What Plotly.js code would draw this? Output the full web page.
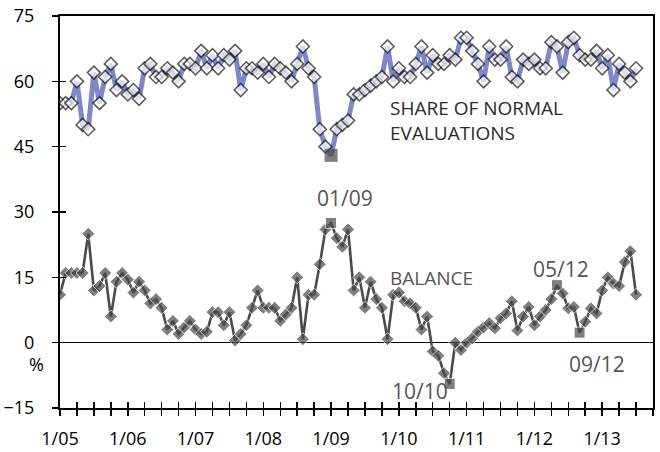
<!DOCTYPE html>
<html>
<head>
<meta charset="utf-8">
<script src="https://cdn.plot.ly/plotly-3.0.1.min.js"></script>
<style>
  html, body { margin: 0; padding: 0; background: #fff; }
  #chart { width: 660px; height: 452px; }
</style>
</head>
<body>
<div id="chart"></div>
<script>
// Monthly data, January 2005 to July 2013
const share = [
  55, 55, 55, 60, 50, 49, 62, 55, 61, 64, 58, 60,
  57, 58, 56, 63, 64, 61, 61, 63, 62, 60, 64, 64,
  63, 67, 63, 66, 63, 66, 65, 67, 58, 63, 63, 62,
  64, 61, 64, 63, 62, 60, 64, 68, 63, 61, 49, 45,
  43, 49, 50, 51, 57, 57, 58, 59, 60, 61, 68, 60,
  63, 61, 61, 64, 68, 62, 66, 64, 64, 66, 65, 70,
  70, 67, 64, 60, 68, 65, 65, 68, 61, 60, 65, 64,
  65, 63, 63, 69, 68, 62, 69, 70, 66, 65, 65, 67,
  63, 66, 58, 64, 62, 60, 63
];
const balance = [
  11, 16, 16, 16, 16, 25, 12, 13, 16, 6, 14, 16,
  14.5, 11.5, 14, 12, 9, 10, 8, 3, 5, 2, 3.5, 5,
  3, 2, 2.5, 7, 7, 4, 7, 0.5, 2, 4, 8, 12,
  8, 8, 8, 5, 6.5, 8, 15, 0.8, 11, 11, 18, 26,
  27.5, 24, 22, 26, 12, 15, 8, 14, 10, 8, 0.8, 11,
  11.5, 9.5, 9, 8, 3, 6, -2, -3, -7, -9.5, 0, -1.7,
  0, 1, 2.5, 3.5, 4.5, 3.3, 5.6, 6.7, 9.5, 2.8, 6, 8.2,
  4, 6, 7.5, 10, 13.2, 11.3, 7.9, 8.2, 2.3, 4.8, 7.9, 6.7,
  12, 15, 13.6, 13, 18.5, 21, 11
];
const yearLabels = ['1/05','1/06','1/07','1/08','1/09','1/10','1/11','1/12','1/13'];
const shareMarked = ['01/09'];
const balanceMarked = ['01/09','10/10','05/12','09/12'];
const shareName = 'SHARE OF NORMAL<br>EVALUATIONS';
const balanceName = 'BALANCE';

// ---------- helpers ----------
const monthIndex = s => { const [m, y] = s.split('/').map(Number); return (y - 5) * 12 + (m - 1); };
const xs = share.map((_, i) => i);
const lastMonth = 105; // axis end (Oct 2013)
const tickVals = [];
for (let v = 0; v <= lastMonth; v += 3) tickVals.push(v);
const tickText = tickVals.map(v => (v % 12 === 0 && yearLabels[v / 12]) ? yearLabels[v / 12] : '');

const FONT = 'Open Sans, Noto Sans, sans-serif';
const BLUE = '#7f87c7';
const DARK = '#4a4a4a';

const shareIdx = shareMarked.map(monthIndex);
const balIdx = balanceMarked.map(monthIndex);

const shareTrace = {
  x: xs, y: share, type: 'scatter', mode: 'lines+markers',
  line: { color: BLUE, width: 5 },
  marker: {
    symbol: xs.map(i => shareIdx.includes(i) ? 'square' : 'diamond'),
    size: xs.map(i => shareIdx.includes(i) ? 13 : 10),
    color: xs.map(i => shareIdx.includes(i) ? DARK : '#ffffff'),
    line: { color: '#1a1a1a', width: xs.map(i => shareIdx.includes(i) ? 0 : 1.6) }
  },
  showlegend: false, hoverinfo: 'skip'
};
const balanceTrace = {
  x: xs, y: balance, type: 'scatter', mode: 'lines+markers',
  line: { color: DARK, width: 2.6 },
  marker: {
    symbol: xs.map(i => balIdx.includes(i) ? 'square' : 'diamond'),
    size: xs.map(i => balIdx.includes(i) ? 11 : 10),
    color: DARK
  },
  showlegend: false, hoverinfo: 'skip'
};
// empty trace that carries the inner tick marks (crossing ticks)
const tickTrace = { x: [null], y: [null], xaxis: 'x2', yaxis: 'y2', type: 'scatter', mode: 'markers', showlegend: false, hoverinfo: 'skip' };

// label offsets (styling only)
const labelShift = {
  '01/09': [14, 25],
  '10/10': [-30, -7],
  '05/12': [4, 16],
  '09/12': [17, -31]
};
const annotations = balanceMarked.map((lab, k) => ({
  x: balIdx[k], y: balance[balIdx[k]], xref: 'x', yref: 'y',
  text: lab, showarrow: false,
  xshift: labelShift[lab][0], yshift: labelShift[lab][1],
  font: { family: FONT, size: 21, color: '#555555' }
}));
annotations.push({
  x: 58, y: 51, xref: 'x', yref: 'y', xanchor: 'left', yanchor: 'middle', align: 'left',
  text: shareName, showarrow: false,
  font: { family: FONT, size: 19, color: '#2b2b2b' }
});
annotations.push({
  x: 58, y: 14.8, xref: 'x', yref: 'y', xanchor: 'left', yanchor: 'middle',
  text: balanceName, showarrow: false,
  font: { family: FONT, size: 19, color: '#555555' }
});
annotations.push({
  x: -0.04, y: -5, xref: 'paper', yref: 'y', xanchor: 'center', yanchor: 'middle',
  text: '%', showarrow: false,
  font: { family: FONT, size: 18, color: '#000' }
});

const layout = {
  width: 660, height: 452,
  margin: { l: 60, r: 7, t: 16, b: 44, pad: 0 },
  paper_bgcolor: '#fff', plot_bgcolor: '#fff',
  font: { family: FONT, size: 18, color: '#000' },
  xaxis: {
    range: [0, lastMonth], tickmode: 'array', tickvals: tickVals, ticktext: tickText,
    ticks: 'outside', ticklen: 6, tickwidth: 1.5, tickcolor: '#000',
    showline: true, linecolor: '#000', linewidth: 2, mirror: true,
    showgrid: false, zeroline: false, fixedrange: true,
    ticklabelstandoff: 7,
    tickfont: { family: FONT, size: 18, color: '#000' }
  },
  yaxis: {
    range: [-15, 75], tickmode: 'array', tickvals: [-15, 0, 15, 30, 45, 60, 75],
    ticks: 'outside', ticklen: 6, tickwidth: 1.5, tickcolor: '#000',
    showline: true, linecolor: '#000', linewidth: 2, mirror: true,
    showgrid: false, zeroline: true, zerolinecolor: '#000', zerolinewidth: 1.6,
    fixedrange: true, ticklabelstandoff: 14,
    tickfont: { family: FONT, size: 18, color: '#000' }
  },
  xaxis2: {
    overlaying: 'x', anchor: 'y2', side: 'bottom', range: [0, lastMonth],
    tickmode: 'array', tickvals: tickVals, ticks: 'inside', ticklen: 6, tickwidth: 1.5, tickcolor: '#000',
    showticklabels: false, showline: false, showgrid: false, zeroline: false, fixedrange: true
  },
  yaxis2: {
    overlaying: 'y', anchor: 'x2', side: 'left', range: [-15, 75],
    tickmode: 'array', tickvals: [-15, 0, 15, 30, 45, 60, 75], ticks: 'inside', ticklen: 6, tickwidth: 1.5, tickcolor: '#000',
    showticklabels: false, showline: false, showgrid: false, zeroline: false, fixedrange: true
  },
  annotations: annotations
};

Plotly.newPlot('chart', [tickTrace, shareTrace, balanceTrace], layout, { displayModeBar: false, staticPlot: true });
</script>
</body>
</html>
